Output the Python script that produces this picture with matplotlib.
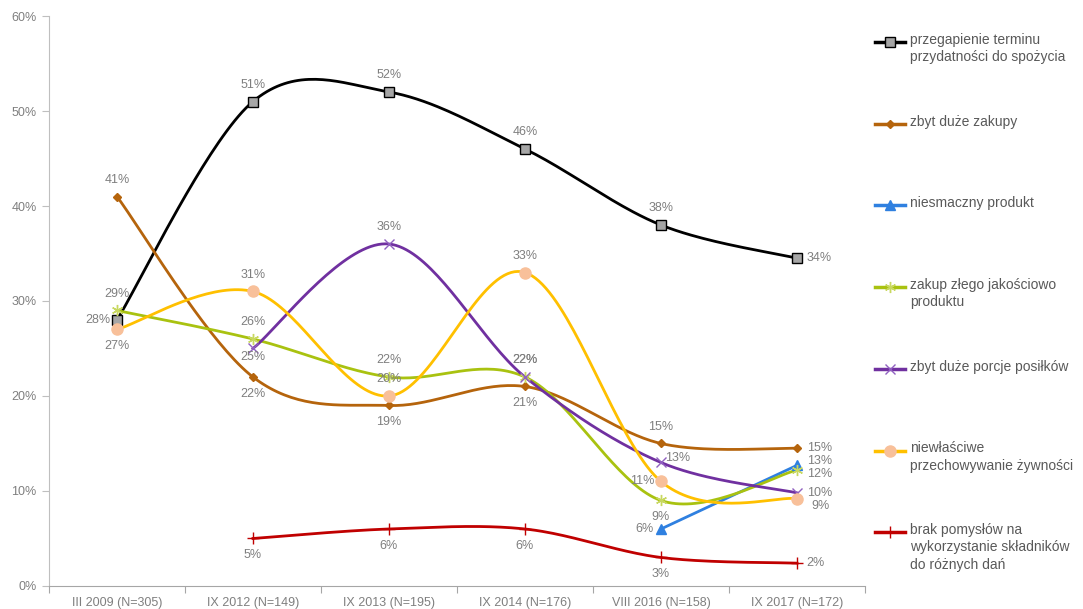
import matplotlib.pyplot as plt
from matplotlib.lines import Line2D
import numpy as np

plt.rcParams['font.family'] = ['Liberation Sans', 'DejaVu Sans']

categories = ["III 2009 (N=305)", "IX 2012 (N=149)", "IX 2013 (N=195)",
              "IX 2014 (N=176)", "VIII 2016 (N=158)", "IX 2017 (N=172)"]

termin = [28, 51, 52, 46, 38, 34.5]
zakupy = [41, 22, 19, 21, 15, 14.5]
niesmaczny = [None, None, None, None, 6, 12.7]
jakosc = [29, 26, 22, 22, 9, 12.2]
porcje = [None, 25, 36, 22, 13, 9.8]
przechowywanie = [27, 31, 20, 33, 11, 9.2]
pomysly = [None, 5, 6, 6, 3, 2.4]

labels_termin = ["28%", "51%", "52%", "46%", "38%", "34%"]
labels_zakupy = ["41%", "22%", "19%", "21%", "15%", "15%"]
labels_niesmaczny = [None, None, None, None, "6%", "13%"]
labels_jakosc = ["29%", "26%", "22%", "22%", "9%", "12%"]
labels_porcje = [None, "25%", "36%", "22%", "13%", "10%"]
labels_przech = ["27%", "31%", "20%", "33%", "11%", "9%"]
labels_pomysly = [None, "5%", "6%", "6%", "3%", "2%"]

names = ["przegapienie terminu\nprzydatności do spożycia",
         "zbyt duże zakupy",
         "niesmaczny produkt",
         "zakup złego jakościowo\nproduktu",
         "zbyt duże porcje posiłków",
         "niewłaściwe\nprzechowywanie żywności",
         "brak pomysłów na\nwykorzystanie składników\ndo różnych dań"]

series = [
    (termin, labels_termin, dict(color="black", marker="s", mfc="#A6A6A6", mec="black", ms=7, mew=1),
     ["left", "above", "above", "above", "above", "right"]),
    (zakupy, labels_zakupy, dict(color="#B5640C", marker="D", mfc="#B5640C", mec="#B5640C", ms=4.5),
     ["above", "below", "below", "below", "above", "right"]),
    (niesmaczny, labels_niesmaczny, dict(color="#2F80E0", marker="^", mfc="#2F80E0", mec="#2F80E0", ms=7),
     [None, None, None, None, "left", "right_up"]),
    (jakosc, labels_jakosc, dict(color="#A9C210", marker=(6, 2, 0), mfc="#A9C210", mec="#C8D860", ms=8, mew=1),
     ["above", "above", "above", "above", "below", "right_low"]),
    (porcje, labels_porcje, dict(color="#7030A0", marker="x", mfc="#7030A0", mec="#9060C0", ms=7, mew=1),
     [None, "below_close", "above", "above", "right_near", "right"]),
    (przechowywanie, labels_przech, dict(color="#FFC000", marker="o", mfc="#F8C09A", mec="#F8C09A", ms=8),
     ["below", "above", "above", "above", "left", "right_down"]),
    (pomysly, labels_pomysly, dict(color="#C00000", marker="+", mfc="#C00000", mec="#C00000", ms=8, mew=1),
     [None, "below", "below", "below", "below", "right"]),
]

offsets = {
    "above": ((0, 12), "center", "center"),
    "below": ((0, -12), "center", "center"),
    "below_close": ((0, -6), "center", "center"),
    "left": ((-5, 0), "right", "center"),
    "right": ((7, 0), "left", "center"),
    "right_low": ((7, -2.5), "left", "center"),
    "right_up": ((7, 3), "left", "center"),
    "right_near": ((3, 3), "left", "center"),
    "right_down": ((10, -5), "left", "center"),
}


def smooth(xs, ys, n=40):
    # Excel-like smoothed line (Catmull-Rom Bezier)
    pts = np.column_stack([xs, ys]).astype(float)
    if len(pts) < 3:
        return pts[:, 0], pts[:, 1]
    out = []
    for i in range(len(pts) - 1):
        p0 = pts[i - 1] if i > 0 else pts[i]
        p1 = pts[i]
        p2 = pts[i + 1]
        p3 = pts[i + 2] if i + 2 < len(pts) else pts[i + 1]
        c1 = p1 + (p2 - p0) / 6
        c2 = p2 - (p3 - p1) / 6
        t = np.linspace(0, 1, n)[:, None]
        b = (1 - t) ** 3 * p1 + 3 * (1 - t) ** 2 * t * c1 + 3 * (1 - t) * t ** 2 * c2 + t ** 3 * p2
        out.append(b if i == 0 else b[1:])
    out = np.vstack(out)
    return out[:, 0], out[:, 1]


fig = plt.figure(figsize=(10.83, 6.09), dpi=100)
ax = fig.add_axes([0.0452, 0.0378, 0.7535, 0.9359])

label_color = "#7F7F7F"
for vals, labs, style, pos in series:
    xs = [i for i, v in enumerate(vals) if v is not None]
    ys = [v for v in vals if v is not None]
    sx, sy = smooth(xs, ys)
    ax.plot(sx, sy, color=style["color"], lw=2, zorder=2)
    ax.plot(xs, ys, ls="none", marker=style["marker"], mfc=style["mfc"], mec=style["mec"],
            ms=style["ms"], mew=style.get("mew", 1), zorder=3)
    for i, v in enumerate(vals):
        if v is None:
            continue
        off, ha, va = offsets[pos[i]]
        ax.annotate(labs[i], (i, v), xytext=off, textcoords="offset points",
                    ha=ha, va=va, fontsize=9, color=label_color, zorder=4)

ax.set_xlim(-0.5, 5.5)
ax.set_ylim(0, 60)
ax.set_yticks(range(0, 61, 10))
ax.set_yticklabels([f"{v}%" for v in range(0, 61, 10)], fontsize=9, color=label_color)
ax.set_xticks(np.arange(-0.5, 6, 1))
ax.set_xticklabels([])
ax.set_xticks(range(6), minor=True)
ax.set_xticklabels(categories, minor=True, fontsize=9, color=label_color)
ax.tick_params(axis="x", which="minor", length=0, pad=8)
ax.tick_params(axis="x", which="major", length=5, color="#A6A6A6")
ax.tick_params(axis="y", length=5, color="#BFBFBF", pad=4)
for s in ["top", "right"]:
    ax.spines[s].set_visible(False)
ax.spines["left"].set_color("#BFBFBF")
ax.spines["bottom"].set_color("#A6A6A6")

# legend on the right
W, H = 1083, 609
for k, (vals, labs, style, pos) in enumerate(series):
    yp = 42 + 81.7 * k
    yf = 1 - yp / H
    fig.add_artist(Line2D([875 / W, 905 / W], [yf, yf], color=style["color"], lw=2.5))
    fig.add_artist(Line2D([890 / W], [yf], ls="none", marker=style["marker"], mfc=style["mfc"],
                          mec=style["mec"], ms=style["ms"], mew=style.get("mew", 1)))
    fig.text(910 / W, yf + 9 / H, names[k], ha="left", va="top", fontsize=10,
             color="#595959", linespacing=1.3)

fig.savefig("out.png", dpi=100)
